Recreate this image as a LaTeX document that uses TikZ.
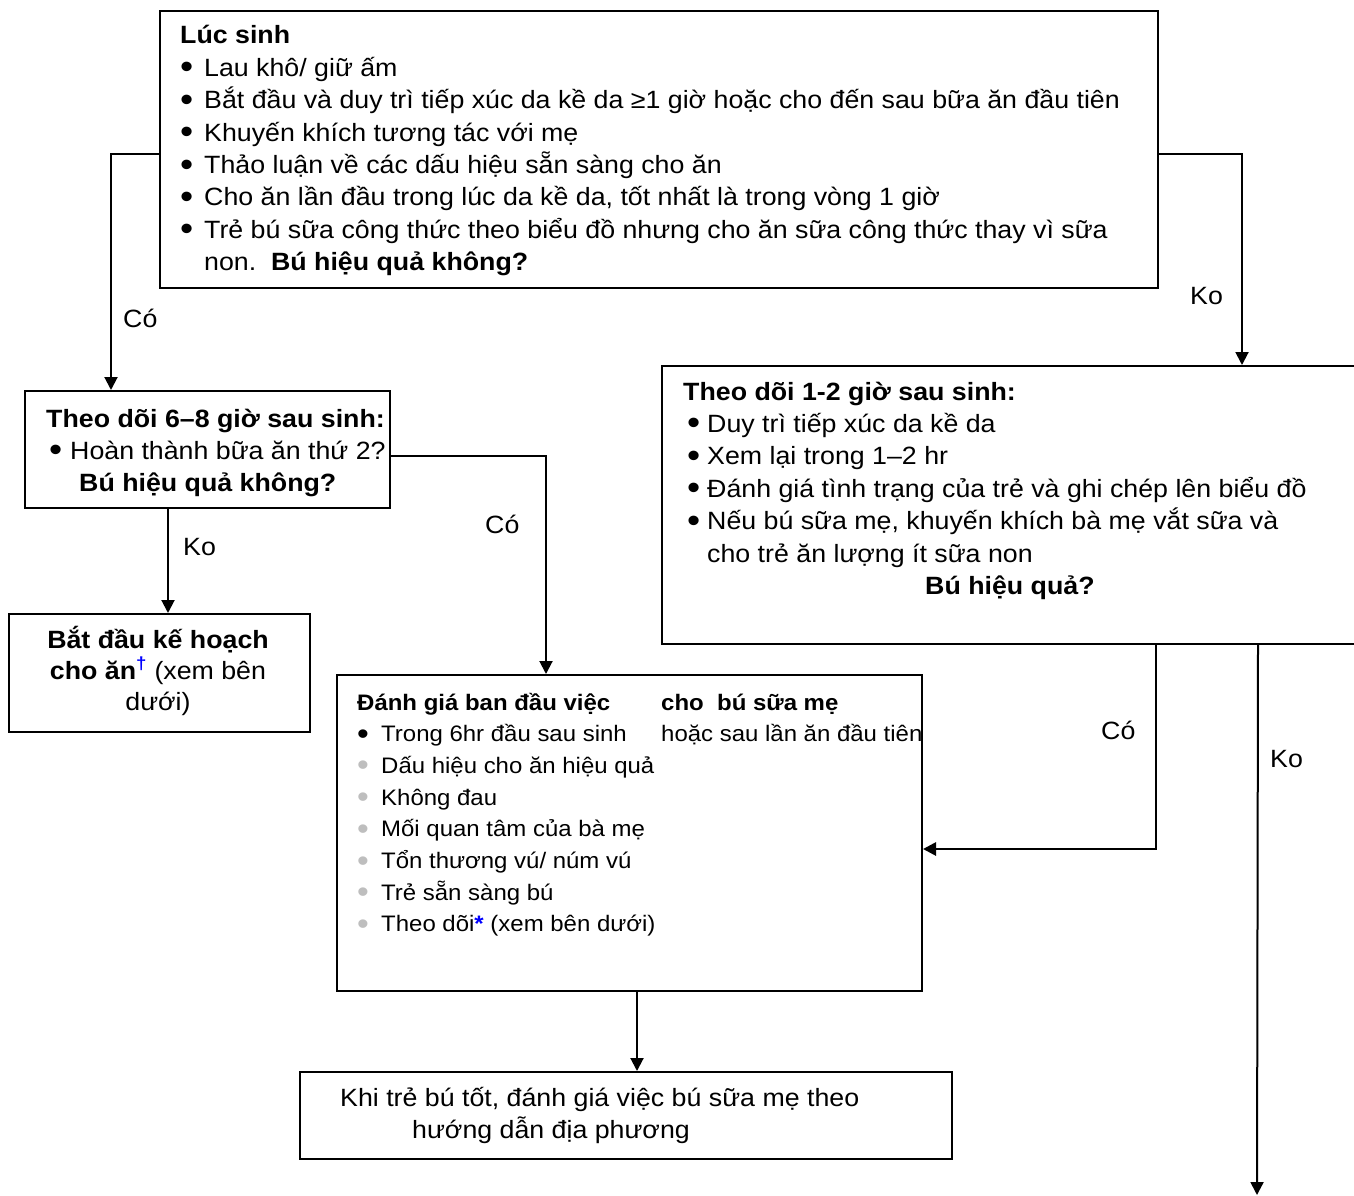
\documentclass[tikz,border=0pt]{standalone}
\usepackage{fontspec}
\usepackage{graphicx}
\setmainfont{Liberation Sans}[FakeStretch=1.07]
\usetikzlibrary{arrows.meta}
\definecolor{bulgray}{RGB}{190,190,190}
\definecolor{markblue}{RGB}{0,0,255}
\newcommand\fbig{\fontsize{25}{32.4}\selectfont}
\newcommand\fsmall{\fontsize{22.4}{31.7}\selectfont}
\newcommand\bigdot{\raisebox{-2.5pt}{\scalebox{1.4}{•}}}
\newcommand\bulA[1][24pt]{\makebox[#1][l]{\bigdot}}
\newcommand\bulG[1][24pt]{\makebox[#1][l]{\textcolor{bulgray}{\bigdot}}}
\begin{document}
\begin{tikzpicture}[x=1pt,y=-1pt,
  box/.style={draw, line width=2pt, rectangle, inner sep=0pt, anchor=north west},
  txt/.style={inner sep=0pt, anchor=base west},
  arr/.style={line width=2pt, -{Triangle[width=13pt,length=13pt]}},
  lbl/.style={inner sep=0pt, anchor=base west, font=\fbig}]
\useasboundingbox (0,0) rectangle (1354,1196);

% boxes
\node[box, minimum width=998pt, minimum height=277pt] (top) at (159,10) {};
\node[box, minimum width=365pt, minimum height=117pt] (b68) at (24,390) {};
\node[box, minimum width=301pt, minimum height=118pt] (plan) at (8,613) {};
\node[box, minimum width=699pt, minimum height=278pt] (r12) at (661,365) {};
\node[box, minimum width=585pt, minimum height=316pt] (dg) at (336,674) {};
\node[box, minimum width=652pt, minimum height=87pt] (bot) at (299,1071) {};

% box texts
\node[txt] (toptxt) at (180,44) {\parbox[t]{990pt}{\fbig\raggedright
  \textbf{Lúc sinh}\\
  \bulA Lau khô/ giữ ấm\\
  \bulA Bắt đầu và duy trì tiếp xúc da kề da ≥1 giờ hoặc cho đến sau bữa ăn đầu tiên\\
  \bulA Khuyến khích tương tác với mẹ\\
  \bulA Thảo luận về các dấu hiệu sẵn sàng cho ăn\\
  \bulA Cho ăn lần đầu trong lúc da kề da, tốt nhất là trong vòng 1 giờ\\
  \bulA Trẻ bú sữa công thức theo biểu đồ nhưng cho ăn sữa công thức thay vì sữa\\
  \hspace*{24pt}non.\ \ \textbf{Bú hiệu quả không?}}};

\node[txt] (b68txt) at (46,427) {\parbox[t]{360pt}{\fbig\raggedright
  \textbf{Theo dõi 6–8 giờ sau sinh:}\\
  \hspace*{3pt}\bulA[21pt]Hoàn thành bữa ăn thứ 2?\\
  \hspace*{33pt}\textbf{Bú hiệu quả không?}}};

\node[inner sep=0pt, anchor=base] (plantxt) at (158,648) {\parbox[t]{300pt}{\fontsize{25}{31}\selectfont\centering
  \textbf{Bắt đầu kế hoạch}\\
  \textbf{cho ăn}\textsuperscript{\textcolor{markblue}{\textbf{†}}} (xem bên\\
  dưới)}};

\node[txt] (r12txt) at (683,400) {\parbox[t]{680pt}{\fbig\raggedright
  \textbf{Theo dõi 1-2 giờ sau sinh:}\\
  \hspace*{4pt}\bulA[20pt]Duy trì tiếp xúc da kề da\\
  \hspace*{4pt}\bulA[20pt]Xem lại trong 1–2 hr\\
  \hspace*{4pt}\bulA[20pt]Đánh giá tình trạng của trẻ và ghi chép lên biểu đồ\\
  \hspace*{4pt}\bulA[20pt]Nếu bú sữa mẹ, khuyến khích bà mẹ vắt sữa và\\
  \hspace*{24pt}cho trẻ ăn lượng ít sữa non\\
  \hspace*{242pt}\textbf{Bú hiệu quả?}}};

\node[txt] (dgtxt) at (357,710) {\parbox[t]{300pt}{\fsmall\raggedright
  \textbf{Đánh giá ban đầu việc}\\
  \bulA Trong 6hr đầu sau sinh\\
  \bulG Dấu hiệu cho ăn hiệu quả\\
  \bulG Không đau\\
  \bulG Mối quan tâm của bà mẹ\\
  \bulG Tổn thương vú/ núm vú\\
  \bulG Trẻ sẵn sàng bú\\
  \bulG Theo dõi\textcolor{markblue}{\textbf{*}} (xem bên dưới)}};
\begin{scope}
  \clip (dg.north west) rectangle (dg.south east);
  \node[txt] (dgtxtb) at (661,710) {\parbox[t]{400pt}{\fsmall\raggedright
    \textbf{cho\ \ bú sữa mẹ}\\
    hoặc sau lần ăn đầu tiên}};
\end{scope}

\node[txt] (bottxt) at (340,1106) {\parbox[t]{600pt}{\fbig\raggedright
  Khi trẻ bú tốt, đánh giá việc bú sữa mẹ theo\\
  \hspace*{72pt}hướng dẫn địa phương}};

% connectors
\coordinate (koend) at (1257,1195);
\draw[arr] ([yshift=-4.5pt]top.west) -| ([xshift=-96.5pt]b68.north);
\draw[arr] ([yshift=-4.5pt]top.east) -| ([xshift=230.5pt]r12.north);
\draw[arr] ([yshift=-6.5pt]b68.east) -| ([xshift=-83.5pt]dg.north);
\draw[arr] ([xshift=-39.5pt]b68.south) -- ([xshift=-39.5pt]b68.south |- plan.north);
\draw[arr, line width=2.8pt] ([xshift=144.5pt]r12.south) |- ([yshift=-16pt]dg.east);
\draw[arr] ([xshift=246.5pt]r12.south) -- (koend);
\draw[arr] ([xshift=7.5pt]dg.south) -- ([xshift=7.5pt]dg.south |- bot.north);

% branch labels
\node[lbl] (l1) at (123,327) {Có};
\node[lbl] (l2) at (1190,304) {Ko};
\node[lbl] (l3) at (485,533) {Có};
\node[lbl] (l4) at (183,555) {Ko};
\node[lbl] (l5) at (1101,739) {Có};
\node[lbl] (l6) at (1270,767) {Ko};
\end{tikzpicture}
\end{document}
